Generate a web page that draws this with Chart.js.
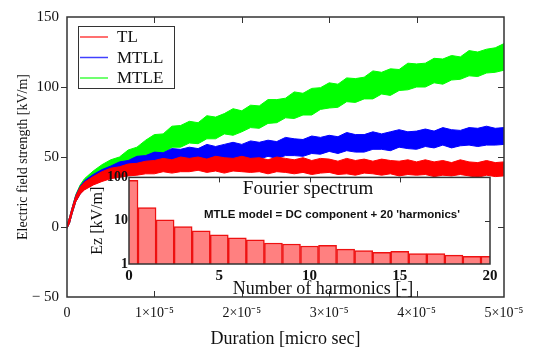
<!DOCTYPE html>
<html>
<head>
<meta charset="utf-8">
<title>Electric field strength - TL / MTLL / MTLE</title>
<script src="https://cdn.jsdelivr.net/npm/chart.js@4.4.0/dist/chart.umd.min.js"></script>
<style>
    body { margin: 0; background: white; }
    #wrap { position: relative; width: 540px; height: 350px; }
    #mainChart { position: absolute; left: 0; top: 0; }
    #insetChart { position: absolute; left: 76px; top: 168px; }
</style>
</head>
<body>
<div id="wrap">
    <canvas id="mainChart" width="540" height="350"></canvas>
    <canvas id="insetChart" width="428" height="137"></canvas>
</div>
<script>
    // time samples (s)
    var duration = [0, 0.03e-5, 0.06e-5, 0.1e-5, 0.15e-5, 0.2e-5, 0.3e-5, 0.4e-5,
        0.5e-5, 0.6e-5, 0.7e-5, 0.8e-5, 0.9e-5,
        1.0e-5, 1.1e-5, 1.2e-5, 1.3e-5, 1.4e-5, 1.5e-5, 1.6e-5, 1.7e-5, 1.8e-5, 1.9e-5,
        2.0e-5, 2.1e-5, 2.2e-5, 2.3e-5, 2.4e-5, 2.5e-5, 2.6e-5, 2.7e-5, 2.8e-5, 2.9e-5,
        3.0e-5, 3.1e-5, 3.2e-5, 3.3e-5, 3.4e-5, 3.5e-5, 3.6e-5, 3.7e-5, 3.8e-5, 3.9e-5,
        4.0e-5, 4.1e-5, 4.2e-5, 4.3e-5, 4.4e-5, 4.5e-5, 4.6e-5, 4.7e-5, 4.8e-5, 4.9e-5,
        5.0e-5];

    // noisy traces: upper / lower edge of each band (kV/m)
    var tlUpper = [1, 7, 14, 22, 28.5, 32, 36, 39.5,
        42, 43, 45, 45.5, 47,
        47.5, 49, 48, 50, 49, 50, 48.5, 50.5, 49.5, 49,
        50.5, 49, 49.5, 48, 50, 49, 48, 49.5, 47.5, 49,
        48.5, 47, 49, 47.5, 48.5, 47, 48.5, 47.5, 47, 48,
        46.5, 48, 46.5, 47.5, 46, 48, 46.5, 46, 47.5, 46,
        46.5];
    var tlLower = [-1, 3, 10, 18, 23.5, 26.5, 30, 32.5,
        34.5, 35.5, 36.5, 37, 38,
        38, 39.5, 38.5, 39.5, 39.5, 40.5, 39, 40, 38.5, 40,
        39.5, 39, 39.5, 38, 39.5, 39, 38, 39, 37.5, 38.5,
        39, 37.5, 38, 37, 38.5, 38, 37, 38, 36.5, 37.5,
        37, 37.5, 36, 37, 36.5, 37.5, 36.5, 35.5, 37, 36,
        36.5];
    var mtllUpper = [1, 7, 14, 22.5, 29, 33, 37.5, 41,
        43.5, 46.5, 47.5, 50.5, 51,
        53.5, 53, 56, 55.5, 57, 56, 59, 57.5, 59, 60.5,
        59, 61.5, 60.5, 62, 61, 64, 63, 62.5, 65, 64,
        65.5, 64.5, 67.5, 66, 66, 68, 66.5, 68, 69.5, 68,
        68.5, 70, 68.5, 71, 69.5, 69, 71, 70.5, 72, 70.5,
        71];
    var mtllLower = [-1, 3, 10, 18, 23.5, 27, 30.5, 33,
        35.5, 37, 38, 40, 40.5,
        42, 41.5, 44, 44, 45.5, 44, 46, 45.5, 48, 47.5,
        47, 49, 48.5, 50.5, 49, 51, 51, 50.5, 52.5, 52,
        54, 52.5, 54.5, 53.5, 53.5, 55.5, 55.5, 54.5, 57, 56,
        55.5, 57.5, 56.5, 58.5, 56.5, 58, 58.5, 57.5, 58.5, 58.5,
        59];
    var mtleUpper = [1, 7, 14, 23, 30, 34.5, 40, 44.5,
        48, 50, 55, 57, 62,
        66, 66.5, 72, 72.5, 75.5, 74.5, 79.5, 78.5, 81, 84.5,
        83, 87, 86.5, 91, 91, 92, 96.5, 95.5, 99, 99.5,
        103, 102, 106.5, 106, 107, 111.5, 110.5, 113, 112.5, 117,
        116.5, 117, 120.5, 120, 122.5, 121.5, 126, 125, 127, 128,
        131];
    var mtleLower = [-1, 3, 10, 18, 24, 27.5, 32, 35.5,
        38.5, 41, 45, 46, 50,
        51, 52.5, 57, 57, 60, 59.5, 63, 63, 66.5, 65.5,
        68, 71, 70.5, 74, 74.5, 78, 77.5, 80, 80, 84,
        85, 85.5, 89.5, 89, 91.5, 91.5, 95, 94, 97.5, 98,
        100, 100, 103, 102, 105, 105.5, 108, 107.5, 110, 110.5,
        112];

    var seriesNames = ['TL', 'MTLL', 'MTLE'];
    var seriesColors = ['#ff0000', '#0000ff', '#00ff00'];

    var xTicks = [0, 1e-5, 2e-5, 3e-5, 4e-5, 5e-5];
    var xTickLabels = ['0', '1\u00d710\u207b\u2075', '2\u00d710\u207b\u2075', '3\u00d710\u207b\u2075', '4\u00d710\u207b\u2075', '5\u00d710\u207b\u2075'];
    var yTicks = [-50, 0, 50, 100, 150];
    var yTickLabels = ['\u2212 50', '0', '50', '100', '150'];

    // inset: Fourier spectrum
    var harmonics = [0, 1, 2, 3, 4, 5, 6, 7, 8, 9, 10, 11, 12, 13, 14, 15, 16, 17, 18, 19, 20];
    var amplitudes = [86, 20, 10.5, 7.3, 5.8, 4.7, 4.0, 3.6, 3.05, 2.9, 2.6, 2.7, 2.2, 2.05, 1.85, 1.95, 1.75, 1.75, 1.6, 1.5, 1.5];
    var hTicks = [0, 5, 10, 15, 20];
    var ezTicks = [1, 10, 100];

    var serif = "'Liberation Serif', 'Times New Roman', serif";
    var frameColor = '#333';

    // box round the plot area, with small ticks pointing inwards
    var framePlugin = {
        id: 'frame',
        afterDatasetsDraw: function (chart, args, opts) {
            var ctx = chart.ctx, a = chart.chartArea;
            var xs = chart.scales.x, ys = chart.scales.y;
            ctx.save();
            ctx.strokeStyle = frameColor;
            ctx.lineWidth = opts.width;
            ctx.strokeRect(a.left, a.top, a.right - a.left, a.bottom - a.top);
            ctx.lineWidth = 1;
            ctx.beginPath();
            (opts.xTicks || []).forEach(function (v) {
                var px = Math.round(xs.getPixelForValue(v)) + 0.5;
                if (opts.top) { ctx.moveTo(px, a.top); ctx.lineTo(px, a.top + opts.len); }
                if (opts.bottom) { ctx.moveTo(px, a.bottom); ctx.lineTo(px, a.bottom - opts.len); }
            });
            (opts.yTicks || []).forEach(function (v) {
                var py = Math.round(ys.getPixelForValue(v)) + 0.5;
                if (opts.left) { ctx.moveTo(a.left - opts.len, py); ctx.lineTo(a.left, py); }
                if (opts.right) { ctx.moveTo(a.right, py); ctx.lineTo(a.right - opts.len, py); }
            });
            ctx.stroke();
            ctx.restore();
        }
    };

    // legend box inside the plot, top left
    var legendPlugin = {
        id: 'legendBox',
        afterDraw: function (chart) {
            var ctx = chart.ctx, a = chart.chartArea;
            var bx = a.left + 11, by = a.top + 9;
            ctx.save();
            ctx.fillStyle = 'white';
            ctx.fillRect(bx, by, 97, 63);
            ctx.strokeStyle = frameColor;
            ctx.lineWidth = 1;
            ctx.strokeRect(bx + 0.5, by + 0.5, 96, 62);
            ctx.font = '17px ' + serif;
            ctx.textBaseline = 'middle';
            for (var i = 0; i < seriesNames.length; i++) {
                var y = by + 11 + i * 20.5;
                ctx.strokeStyle = seriesColors[i];
                ctx.globalAlpha = 0.75;
                ctx.lineWidth = 1.5;
                ctx.beginPath();
                ctx.moveTo(bx + 2, y);
                ctx.lineTo(bx + 30, y);
                ctx.stroke();
                ctx.globalAlpha = 1;
                ctx.fillStyle = '#111';
                ctx.fillText(seriesNames[i], bx + 39, y + 1);
            }
            ctx.restore();
        }
    };

    function band(idx, upper, lower) {
        var color = seriesColors[idx];
        return [{
            label: seriesNames[idx],
            data: duration.map(function (t, i) { return { x: t, y: upper[i] }; }),
            borderColor: color,
            backgroundColor: color,
            borderWidth: 1,
            pointRadius: 0,
            tension: 0,
            fill: '+1'
        }, {
            label: seriesNames[idx] + ' low',
            data: duration.map(function (t, i) { return { x: t, y: lower[i] }; }),
            borderColor: color,
            borderWidth: 1,
            pointRadius: 0,
            tension: 0,
            fill: false
        }];
    }

    var mainData = {
        datasets: [].concat(band(0, tlUpper, tlLower), band(1, mtllUpper, mtllLower), band(2, mtleUpper, mtleLower))
    };

    new Chart(document.getElementById('mainChart').getContext('2d'), {
        type: 'line',
        data: mainData,
        options: {
            responsive: false,
            animation: false,
            devicePixelRatio: 1,
            layout: { padding: { left: 0, right: 36, top: 9, bottom: 0 } },
            plugins: {
                legend: { display: false },
                tooltip: { enabled: false },
                frame: { width: 1.5, len: 6, xTicks: xTicks.slice(1, -1), yTicks: yTicks.slice(1, -1), top: true, bottom: true, left: true, right: true }
            },
            scales: {
                x: {
                    type: 'linear', min: 0, max: 5e-5,
                    afterBuildTicks: function (s) { s.ticks = xTicks.map(function (v) { return { value: v }; }); },
                    afterFit: function (s) { s.height = 53; },
                    grid: { display: false, drawTicks: false },
                    border: { display: false },
                    ticks: {
                        padding: 8, color: '#111', maxRotation: 0,
                        font: { family: serif, size: 14 },
                        callback: function (v, i) { return xTickLabels[i]; }
                    },
                    title: { display: true, text: 'Duration [micro sec]', color: '#111', font: { family: serif, size: 18 }, padding: { top: 0, bottom: 0 } }
                },
                y: {
                    min: -50, max: 150,
                    afterBuildTicks: function (s) { s.ticks = yTicks.map(function (v) { return { value: v }; }); },
                    afterFit: function (s) { s.width = 67; },
                    grid: { display: false, drawTicks: false },
                    border: { display: false },
                    ticks: {
                        padding: 8, color: '#111',
                        font: { family: serif, size: 15 },
                        callback: function (v, i) { return yTickLabels[i]; }
                    },
                    title: { display: true, text: 'Electric field strength [kV/m]', color: '#111', font: { family: serif, size: 14 }, padding: { top: 15, bottom: 0 } }
                }
            }
        },
        plugins: [framePlugin, legendPlugin]
    });

    // white plot area and texts of the inset
    var insetPlugin = {
        id: 'insetBits',
        beforeDatasetsDraw: function (chart) {
            var ctx = chart.ctx, a = chart.chartArea;
            ctx.save();
            ctx.fillStyle = 'white';
            ctx.fillRect(a.left, a.top, a.right - a.left, a.bottom - a.top);
            ctx.restore();
        },
        afterDraw: function (chart) {
            var ctx = chart.ctx, a = chart.chartArea;
            ctx.save();
            ctx.fillStyle = '#111';
            ctx.textAlign = 'center';
            ctx.textBaseline = 'middle';
            ctx.font = '19px ' + serif;
            ctx.fillText('Fourier spectrum', a.left + 179, a.top + 12);
            ctx.font = "bold 11.5px 'Liberation Sans', Arial, sans-serif";
            ctx.fillText("MTLE model = DC component + 20 'harmonics'", a.left + 203, a.top + 37);
            ctx.restore();
        }
    };

    new Chart(document.getElementById('insetChart').getContext('2d'), {
        type: 'bar',
        data: {
            datasets: [{
                data: harmonics.map(function (h, i) { return { x: h, y: amplitudes[i] }; }),
                backgroundColor: '#ff8080',
                borderColor: '#ee1111',
                borderWidth: 1.5,
                barPercentage: 1,
                categoryPercentage: 1,
                clip: 0
            }]
        },
        options: {
            responsive: false,
            animation: false,
            devicePixelRatio: 1,
            layout: { padding: { left: 0, right: 14, top: 8, bottom: 0 } },
            plugins: {
                legend: { display: false },
                tooltip: { enabled: false },
                frame: { width: 1.5, len: 5, xTicks: [5, 10, 15], yTicks: [10], top: true, right: true }
            },
            scales: {
                x: {
                    type: 'linear', min: 0, max: 20, offset: false,
                    afterBuildTicks: function (s) { s.ticks = hTicks.map(function (v) { return { value: v }; }); },
                    afterFit: function (s) { s.height = 41; },
                    grid: { display: false, offset: false, drawTicks: false },
                    border: { display: false },
                    ticks: { padding: 3, color: '#111', maxRotation: 0, font: { family: serif, size: 15, weight: 'bold' } },
                    title: { display: true, text: '      Number of harmonics [-]', color: '#111', font: { family: serif, size: 18 }, padding: { top: 0, bottom: 5 } }
                },
                y: {
                    type: 'logarithmic', min: 1, max: 100,
                    afterBuildTicks: function (s) { s.ticks = ezTicks.map(function (v) { return { value: v }; }); },
                    afterFit: function (s) { s.width = 53; },
                    grid: { display: false, drawTicks: false },
                    border: { display: false },
                    ticks: { padding: 1, color: '#111', font: { family: serif, size: 14, weight: 'bold' }, callback: function (v) { return String(v); } },
                    title: { display: true, text: 'Ez [kV/m]', color: '#111', font: { family: serif, size: 16 }, padding: { top: 12, bottom: 0 } }
                }
            }
        },
        plugins: [insetPlugin, framePlugin]
    });
</script>
</body>
</html>
